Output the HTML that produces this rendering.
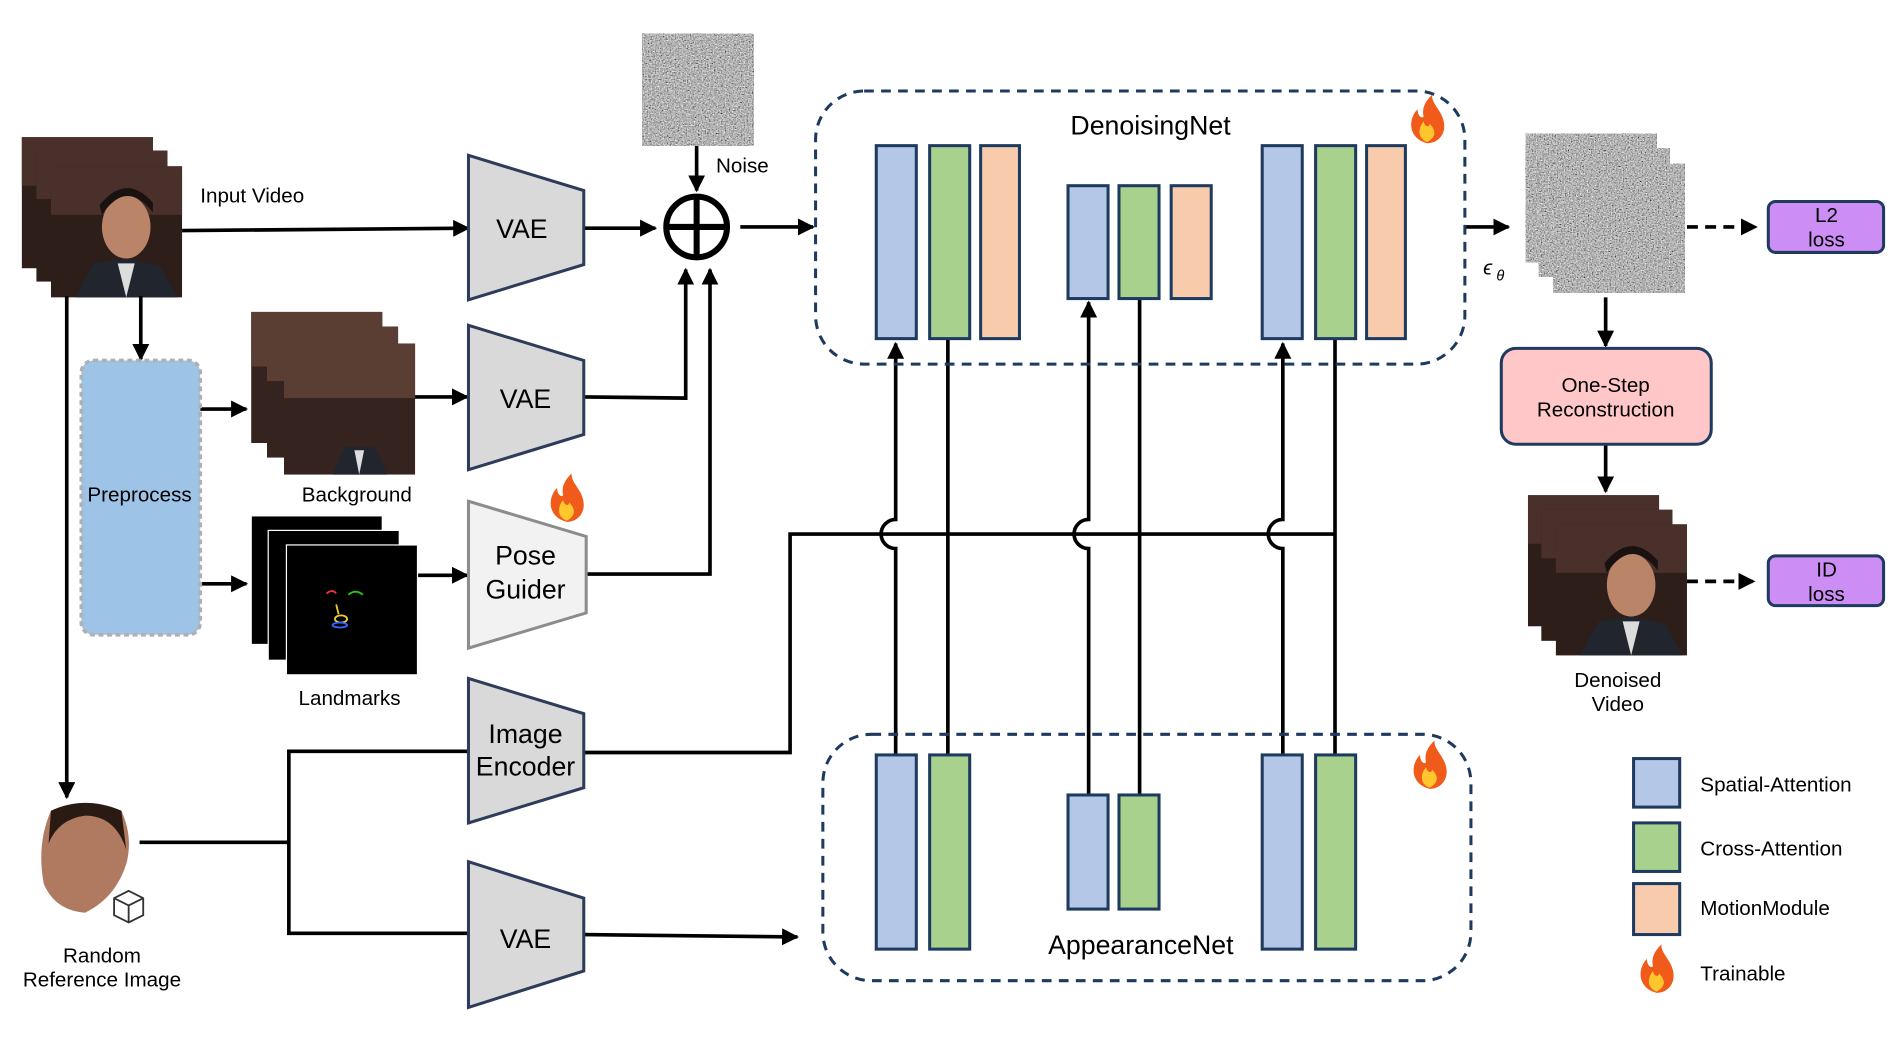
<!DOCTYPE html>
<html><head><meta charset="utf-8"><style>html,body{margin:0;padding:0;background:#fff}svg{display:block}text{font-family:"Liberation Sans",sans-serif;fill:#000}</style></head><body>
<svg width="1903" height="1037" viewBox="0 0 1568 854.4" preserveAspectRatio="none" xmlns="http://www.w3.org/2000/svg">
<defs>
<marker id="a" viewBox="0 0 10 10" refX="9" refY="5" markerWidth="14" markerHeight="14" orient="auto" markerUnits="userSpaceOnUse"><path d="M0,0 L10,5 L0,10 z" fill="#000"/></marker>
<filter id="nz" x="0" y="0" width="100%" height="100%"><feTurbulence type="fractalNoise" baseFrequency="0.9" numOctaves="2" seed="3"/><feColorMatrix type="matrix" values="0.7 0.7 0.7 0 -0.6 0.7 0.7 0.7 0 -0.6 0.7 0.7 0.7 0 -0.6 0 0 0 0 1"/></filter>
<g id="face"><rect width="108" height="108" fill="#2e1e1a"/><rect y="0" width="108" height="40" fill="#4a302a"/><ellipse cx="62" cy="50" rx="20" ry="26" fill="#b98468"/><path d="M42,40 Q62,10 84,38 L84,30 Q62,5 40,32z" fill="#1a1210"/><path d="M20,108 L35,80 L62,76 L90,82 L104,108z" fill="#20252e"/><path d="M55,80 L62,108 L69,80z" fill="#ddd"/></g>
<g id="bg"><rect width="108" height="108" fill="#35231f"/><rect width="108" height="45" fill="#5a3e34"/><path d="M40,108 L50,85 L75,85 L85,108z" fill="#20252e"/><path d="M58,88 L62,108 L66,88z" fill="#ddd"/></g>
<g id="nzs"><rect width="108" height="106" fill="#777"/><rect width="108" height="106" filter="url(#nz)"/></g>
<g id="fire"><path d="M0,18 C-16,14 -16,-2 -8,-10 C-8,-4 -4,-2 -3,-4 C-5,-12 0,-18 4,-22 C3,-14 14,-8 14,4 C14,12 8,18 0,18z" fill="#f05a1a"/><path d="M0,17 C-8,14 -8,6 -3,0 C-2,5 2,5 2,2 C6,6 9,12 0,17z" fill="#ffc62e"/></g>
</defs>

<use href="#face" x="18" y="113"/><use href="#face" x="30" y="124"/><use href="#face" x="42" y="137"/>
<text x="165" y="167" font-size="17">Input Video</text>
<g stroke="#000" stroke-width="3" fill="none">
<line x1="150" y1="190" x2="386" y2="188" marker-end="url(#a)"/>
<line x1="481" y1="188" x2="540" y2="188" marker-end="url(#a)"/>
<line x1="574" y1="120" x2="574" y2="157" marker-end="url(#a)"/>
<line x1="610" y1="187" x2="670" y2="187" marker-end="url(#a)"/>
<line x1="116" y1="244" x2="116" y2="296" marker-end="url(#a)"/>
<line x1="55" y1="244" x2="55" y2="657" marker-end="url(#a)"/>
<line x1="165" y1="337" x2="203" y2="337" marker-end="url(#a)"/>
<line x1="165" y1="481" x2="203" y2="481" marker-end="url(#a)"/>
<line x1="341" y1="327" x2="385" y2="327" marker-end="url(#a)"/>
<line x1="344" y1="474" x2="385" y2="474" marker-end="url(#a)"/>
<polyline points="481,327 565,328 565,222" marker-end="url(#a)"/>
<polyline points="483,473 585,473 585,222" marker-end="url(#a)"/>
<polyline points="481,620 651,620 651,440 1100,440"/>
<line x1="115" y1="694" x2="238" y2="694"/>
<polyline points="386,619 238,619 238,769 386,769"/>
<line x1="481" y1="770" x2="657" y2="772" marker-end="url(#a)"/>
<line x1="1207" y1="187" x2="1243" y2="187" marker-end="url(#a)"/>
<line x1="1323" y1="245" x2="1323" y2="285" marker-end="url(#a)"/>
<line x1="1323" y1="367" x2="1323" y2="405" marker-end="url(#a)"/>
<line x1="1390" y1="187" x2="1447" y2="187" stroke-dasharray="9,6" marker-end="url(#a)"/>
<line x1="1390" y1="479" x2="1445" y2="479" stroke-dasharray="9,6" marker-end="url(#a)"/>
<path d="M738,622 L738,452 A12,12 0 0 1 738,428 L738,283" marker-end="url(#a)"/>
<line x1="781" y1="279" x2="781" y2="622"/>
<path d="M897,655 L897,452 A12,12 0 0 1 897,428 L897,249" marker-end="url(#a)"/>
<line x1="939" y1="246" x2="939" y2="655"/>
<path d="M1057,622 L1057,452 A12,12 0 0 1 1057,428 L1057,283" marker-end="url(#a)"/>
<line x1="1100" y1="279" x2="1100" y2="622"/>
</g>
<g stroke="#2f3b5a" stroke-width="2.5">
<polygon points="386,128 481,157 481,218 386,247" fill="#d9d9d9"/>
<polygon points="386,268 481,297 481,358 386,387" fill="#d9d9d9"/>
<polygon points="386,413 483,442 483,505 386,534" fill="#f2f2f2" stroke="#8c8c8c"/>
<polygon points="386,559 481,588 481,649 386,678" fill="#d9d9d9"/>
<polygon points="386,710 481,740 481,800 386,830" fill="#d9d9d9"/>
</g>
<g font-size="22" text-anchor="middle">
<text x="430" y="196">VAE</text><text x="433" y="336">VAE</text><text x="433" y="781">VAE</text>
<text x="433" y="465">Pose</text><text x="433" y="493">Guider</text>
<text x="433" y="612">Image</text><text x="433" y="639">Encoder</text>
</g>
<circle cx="574" cy="187" r="25" fill="#fff" stroke="#000" stroke-width="5"/>
<line x1="549" y1="187" x2="599" y2="187" stroke="#000" stroke-width="5"/><line x1="574" y1="162" x2="574" y2="212" stroke="#000" stroke-width="5"/>
<rect x="529" y="28" width="92" height="92" fill="#777"/><rect x="529" y="28" width="92" height="92" filter="url(#nz)"/>
<text x="590" y="142" font-size="17">Noise</text>
<rect x="67" y="297" width="98" height="226" rx="10" fill="#9dc3e6" stroke="#b0b0b0" stroke-width="3" stroke-dasharray="4,3"/>
<text x="115" y="413" font-size="17" text-anchor="middle">Preprocess</text>
<use href="#bg" x="207" y="257"/><use href="#bg" x="220" y="269"/><use href="#bg" x="234" y="283"/>
<text x="294" y="413" font-size="17" text-anchor="middle">Background</text>
<g fill="#000" stroke="#fff" stroke-width="1"><rect x="207" y="425" width="108" height="106"/><rect x="221" y="437" width="108" height="107"/><rect x="236" y="449" width="108" height="107"/></g>
<g fill="none" stroke-width="1.5"><path d="M269,489 q5,-4 8,0" stroke="#e33"/><path d="M287,490 q6,-5 12,0" stroke="#2c2"/><path d="M277,498 l2,8" stroke="#ec3"/><ellipse cx="281" cy="510" rx="5" ry="3" stroke="#ec3"/><ellipse cx="280" cy="515" rx="6" ry="2" stroke="#36f"/></g>
<text x="288" y="581" font-size="17" text-anchor="middle">Landmarks</text>
<path d="M42,668 Q70,655 100,668 Q110,690 104,712 Q95,740 70,752 Q45,750 36,728 Q30,695 42,668z" fill="#b07a60"/>
<path d="M42,668 Q70,655 100,668 L104,700 Q95,672 70,672 Q48,675 40,695z" fill="#2a1a14"/>
<g stroke="#333" stroke-width="1.5" fill="#fff"><path d="M94,740 l12,-6 l12,6 l0,14 l-12,6 l-12,-6z"/><path d="M94,740 l12,6 l12,-6 M106,746 l0,14"/></g>
<text x="84" y="793" font-size="17" text-anchor="middle">Random</text>
<text x="84" y="813" font-size="17" text-anchor="middle">Reference Image</text>
<g fill="none" stroke="#1f3a5f" stroke-width="2.5" stroke-dasharray="8,6">
<rect x="672" y="75" width="535" height="225" rx="40"/>
<rect x="678" y="605" width="534" height="203" rx="40"/>
</g>
<text x="948" y="111" font-size="22" text-anchor="middle">DenoisingNet</text>
<text x="940" y="786" font-size="22" text-anchor="middle">AppearanceNet</text>
<g stroke="#1f3a5f" stroke-width="2.5">
<rect x="722" y="120" width="33" height="159" fill="#b4c7e7"/><rect x="766" y="120" width="33" height="159" fill="#a9d18e"/><rect x="808" y="120" width="32" height="159" fill="#f8cbad"/>
<rect x="880" y="153" width="33" height="93" fill="#b4c7e7"/><rect x="922" y="153" width="33" height="93" fill="#a9d18e"/><rect x="965" y="153" width="33" height="93" fill="#f8cbad"/>
<rect x="1040" y="120" width="33" height="159" fill="#b4c7e7"/><rect x="1084" y="120" width="33" height="159" fill="#a9d18e"/><rect x="1126" y="120" width="32" height="159" fill="#f8cbad"/>
<rect x="722" y="622" width="33" height="160" fill="#b4c7e7"/><rect x="766" y="622" width="33" height="160" fill="#a9d18e"/>
<rect x="880" y="655" width="33" height="94" fill="#b4c7e7"/><rect x="922" y="655" width="33" height="94" fill="#a9d18e"/>
<rect x="1040" y="622" width="33" height="160" fill="#b4c7e7"/><rect x="1084" y="622" width="33" height="160" fill="#a9d18e"/>
<rect x="1346" y="625" width="38" height="40" fill="#b4c7e7"/><rect x="1346" y="678" width="38" height="40" fill="#a9d18e"/><rect x="1346" y="728" width="38" height="42" fill="#f8cbad"/>
</g>
<use href="#fire" x="1176" y="100"/><use href="#fire" x="467" y="412"/><use href="#fire" x="1178" y="632"/><use href="#fire" x="1365" y="800"/>
<use href="#nzs" x="1257" y="110"/><use href="#nzs" x="1268" y="122"/><use href="#nzs" x="1280" y="135"/>
<text x="1222" y="226" font-size="17" font-style="italic">ϵ</text><text x="1233" y="231" font-size="12" font-style="italic">θ</text>
<g stroke="#1f3a5f" stroke-width="2.5">
<rect x="1457" y="166" width="95" height="42" rx="6" fill="#cc8df5"/>
<rect x="1457" y="458" width="95" height="41" rx="6" fill="#cc8df5"/>
<rect x="1237" y="287" width="173" height="79" rx="12" fill="#ffc7c7"/>
</g>
<g font-size="17" text-anchor="middle">
<text x="1505" y="183">L2</text><text x="1505" y="203">loss</text>
<text x="1505" y="475">ID</text><text x="1505" y="495">loss</text>
<text x="1323" y="323">One-Step</text><text x="1323" y="343">Reconstruction</text>
<text x="1333" y="566">Denoised</text><text x="1333" y="586">Video</text>
</g>
<use href="#face" x="1259" y="408"/><use href="#face" x="1270" y="420"/><use href="#face" x="1282" y="432"/>
<g font-size="17">
<text x="1401" y="652">Spatial-Attention</text><text x="1401" y="705">Cross-Attention</text>
<text x="1401" y="754">MotionModule</text><text x="1401" y="808">Trainable</text>
</g>
</svg>
</body></html>
